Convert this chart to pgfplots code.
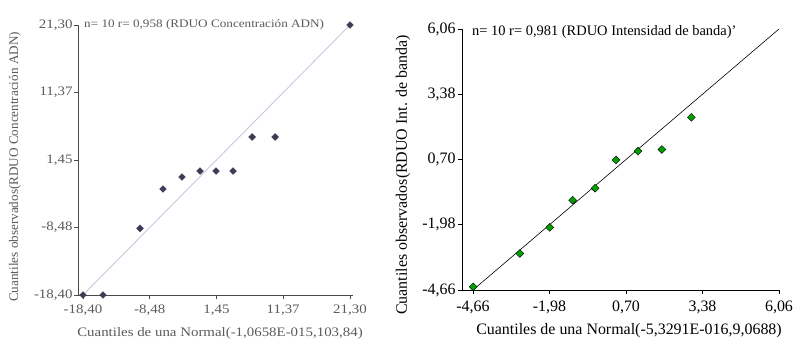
\documentclass[border=0pt]{standalone}
\usepackage{fontspec}
\setmainfont{Liberation Serif}
\newfontfamily\widefont[FakeStretch=1.15]{Liberation Serif}
\usepackage{pgfplots}
\pgfplotsset{compat=1.18}

\definecolor{qqgreen}{HTML}{00A000}
\definecolor{fadetext}{HTML}{5A5A5A}
\definecolor{fadeaxis}{HTML}{4A4A4A}
\definecolor{fadeline}{HTML}{C8C8DC}
\definecolor{fademark}{HTML}{3C3C55}

% Q-Q plot data: theoretical normal quantile vs observed quantile
\pgfplotstableread{
x y
-18.40 -18.40
-15.42 -18.40
-9.92 -8.60
-6.50 -2.81
-3.67 -1.05
-0.99 -0.17
1.39 -0.17
3.92 -0.17
6.75 4.83
10.17 4.83
21.30 21.30
}\adntable

\pgfplotstableread{
x y
-4.65 -4.53
-3.02 -3.16
-1.97 -2.09
-1.17 -0.97
-0.38 -0.48
0.35 0.68
1.12 1.04
1.96 1.11
2.99 2.43
}\bandtable

\begin{document}
\begin{tikzpicture}
\useasboundingbox (0bp,0bp) rectangle (795bp,339bp);

% ---- RDUO Concentracion ADN ----
\begin{axis}[at={(78bp,44bp)}, anchor=south west, scale only axis,
  width=275bp, height=270bp,
  xmin=-19.14, xmax=21.75, ymin=-18.40, ymax=21.30,
  axis x line*=bottom, axis y line*=left,
  axis line style={fadeaxis, line width=0.9pt},
  xtick={-18.40,-8.48,1.45,11.37,21.30},
  xticklabels={{-18,40},{-8,48},{1,45},{11,37},{21,30}},
  ytick={-18.40,-8.48,1.45,11.37,21.30},
  yticklabels={{-18,40},{-8,48},{1,45},{11,37},{21,30}},
  tick align=outside, major tick length=4bp,
  tick style={fadeaxis, line width=0.8pt},
  xticklabel style={yshift=-2bp},
  yticklabel style={xshift=2bp},
  tick label style={font=\widefont\fontsize{13}{15}\selectfont, text=fadetext},
  clip=false]
  \addplot[fadeline, line width=0.9pt] coordinates {(-18.40,-18.40) (21.30,21.30)};
  \addplot[only marks, mark=square*, mark size=2.4bp,
    mark options={rotate=45, fill=fademark, draw=fademark}] table[x=x, y=y] {\adntable};
\end{axis}

% ---- RDUO Intensidad de banda ----
\begin{axis}[at={(462bp,49bp)}, anchor=south west, scale only axis,
  width=317bp, height=261bp,
  xmin=-5.045, xmax=6.06, ymin=-4.66, ymax=6.06,
  axis x line*=bottom, axis y line*=left,
  axis line style={black, line width=0.8pt},
  xtick={-4.66,-1.98,0.70,3.38,6.06},
  xticklabels={{-4,66},{-1,98},{0,70},{3,38},{6,06}},
  ytick={-4.66,-1.98,0.70,3.38,6.06},
  yticklabels={{-4,66},{-1,98},{0,70},{3,38},{6,06}},
  tick align=outside, major tick length=4bp,
  tick style={black, line width=0.8pt},
  xticklabel style={yshift=-3bp},
  yticklabel style={xshift=1bp},
  tick label style={font=\fontsize{16}{18}\selectfont},
  clip=false]
  \addplot[black, line width=0.6pt] coordinates {(-4.66,-4.66) (6.06,6.06)};
  \addplot[only marks, mark=square*, mark size=2.8bp,
    mark options={rotate=45, fill=qqgreen, draw=black, line width=0.4pt}] table[x=x, y=y] {\bandtable};
\end{axis}

% titles and axis labels
\node[anchor=west, text=fadetext, font=\widefont\fontsize{11.5}{13}\selectfont, inner sep=0pt]
  at (84bp,314bp) {n= 10 r= 0,958 (RDUO Concentración ADN)};
\node[text=fadetext, font=\widefont\fontsize{13}{15}\selectfont, inner sep=0pt]
  at (220bp,6bp) {Cuantiles de una Normal(-1,0658E-015,103,84)};
\node[rotate=90, text=fadetext, font=\fontsize{13.2}{15}\selectfont, inner sep=0pt]
  at (15bp,172bp) {Cuantiles observados(RDUO Concentración ADN)};

\node[anchor=west, font=\fontsize{14.5}{16}\selectfont, inner sep=0pt]
  at (472bp,307bp) {n= 10 r= 0,981 (RDUO Intensidad de banda)'};
\node[font=\fontsize{16}{18}\selectfont, inner sep=0pt]
  at (629bp,8bp) {Cuantiles de una Normal(-5,3291E-016,9,0688)};
\node[rotate=90, font=\fontsize{16}{18}\selectfont, inner sep=0pt]
  at (403bp,164bp) {Cuantiles observados(RDUO Int. de banda)};
\end{tikzpicture}
\end{document}
